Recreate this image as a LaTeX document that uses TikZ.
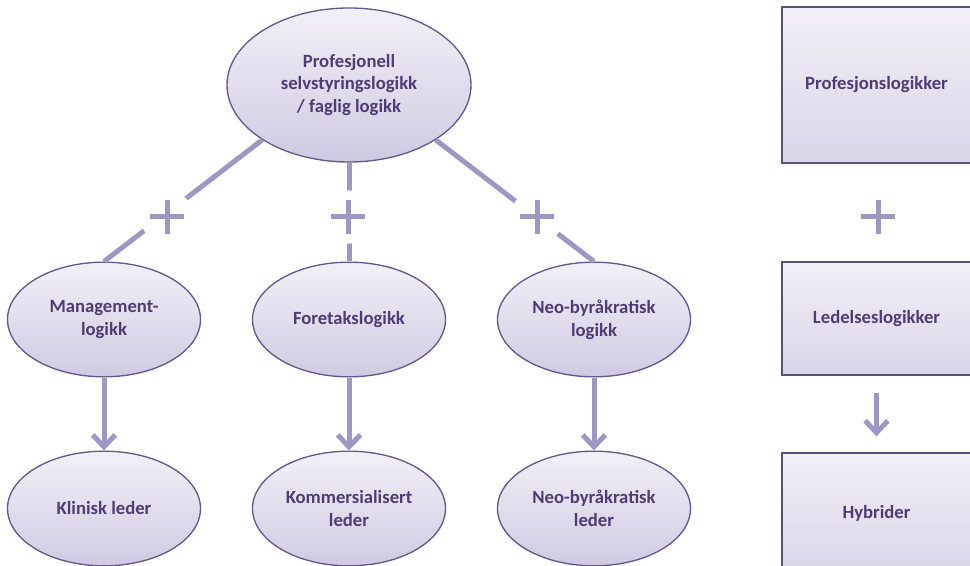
\documentclass[tikz,border=0pt]{standalone}
\usepackage{fontspec}
\setmainfont{Carlito}
\usetikzlibrary{shapes.geometric,arrows.meta}

\definecolor{ink}{HTML}{4E3D75}
\definecolor{rim}{HTML}{66578F}
\definecolor{boxrim}{HTML}{5B4F78}
\definecolor{linkcol}{HTML}{A096C4}
\definecolor{shadetop}{HTML}{F2F0F7}
\definecolor{shadebot}{HTML}{D0CAE1}
\definecolor{boxbot}{HTML}{DAD5E7}

\begin{document}
\begin{tikzpicture}[x=0.75pt,y=-0.75pt,
  txt/.style={font=\bfseries\fontsize{14}{17}\selectfont, text=ink, align=center},
  oval/.style={ellipse, draw=rim, line width=1pt, top color=shadetop,
    bottom color=shadebot, txt, inner sep=0pt},
  bigoval/.style={oval, minimum width=183pt, minimum height=115.5pt},
  smalloval/.style={oval, minimum width=144.75pt, minimum height=86pt},
  panel/.style={rectangle, draw=boxrim, line width=1pt, top color=shadetop,
    bottom color=boxbot, txt, minimum width=141.75pt, inner sep=0pt},
  link/.style={draw=linkcol, line width=3.75pt},
  flow/.style={link, -{Straight Barb[length=9pt,width=17pt]}},
  plussign/.style={circle, fill=white, minimum size=40pt, inner sep=0pt,
    path picture={
      \draw[linkcol, line width=3.75pt]
        ([xshift=-13pt]path picture bounding box.center) --
        ([xshift=13pt]path picture bounding box.center)
        ([yshift=-12.5pt]path picture bounding box.center) --
        ([yshift=12.5pt]path picture bounding box.center);}}
]
\useasboundingbox (0,0) rectangle (970,566);

% top logic and the three management logics
\node[bigoval] (top) at (349,85) {Profesjonell\\selvstyringslogikk\\/ faglig logikk};
\node[smalloval] (mgmt) at (104,319.5) {Management-\\logikk};
\node[smalloval] (fore) at (349,319.5) {Foretakslogikk};
\node[smalloval] (neo) at (594,319.5) {Neo-byråkratisk\\logikk};

% resulting leader types
\node[smalloval] (klin) at (104,508.5) {Klinisk leder};
\node[smalloval] (kom) at (349,508.5) {Kommersialisert\\leder};
\node[smalloval] (neol) at (594,508.5) {Neo-byråkratisk\\leder};

% connectors from the top logic, interrupted by plus signs
\draw[link] (top.south west) -- (mgmt.north);
\draw[link] (top.south) -- (fore.north);
\draw[link] (top.south east) -- (neo.north);
\node[plussign] (plusL) at (167,217) {};
\node[plussign] (plusM) at (348,217) {};
\node[plussign] (plusR) at (537,217) {};

\draw[flow] (mgmt) -- (klin);
\draw[flow] (fore) -- (kom);
\draw[flow] (neo) -- (neol);

% summary column
\node[panel, minimum height=117pt] (prof) at (876.5,85) {Profesjonslogikker};
\node[panel, minimum height=84.75pt] (led) at (876.5,318.5) {Ledelseslogikker};
\node[panel, minimum height=90pt] (hyb) at (876.5,513) {Hybrider};
\node[plussign] (plusS) at (878,217) {};
\draw[flow, shorten <=13pt, shorten >=12pt] (led) -- (hyb);
\end{tikzpicture}
\end{document}
